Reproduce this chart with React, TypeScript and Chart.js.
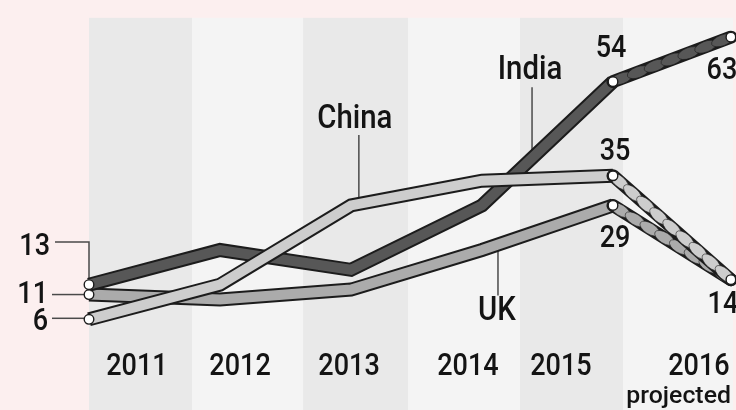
import React, { useEffect, useRef } from "react";
import { Chart, registerables } from "chart.js";

Chart.register(...registerables);

// ---- data ----
const years = ["2011", "2012", "2013", "2014", "2015", "2016"];
const yearX = [2011, 2012, 2013, 2014, 2015, 2015.9]; // 2016 is projected
const projectedFrom = 4; // index where projection starts
const india = [13, 20, 16, 29, 54, 63];
const china = [6, 13, 29, 34, 35, 14];
const uk = [11, 10, 12, 20, 29, 14];
const seriesNames = ["China", "India", "UK"];
const projectedLabel = "projected";

// ---- layout config ----
const PX_PER_YEAR = 131;
const X_ORIGIN_PX = 89;
const PX_PER_UNIT = 4.95;
const ZERO_PX = 349;
const W = 736;
const H = 410;
const X_MIN = 2011 - X_ORIGIN_PX / PX_PER_YEAR;
const X_MAX = X_MIN + W / PX_PER_YEAR;
const Y_MAX = ZERO_PX / PX_PER_UNIT;
const Y_MIN = Y_MAX - H / PX_PER_UNIT;

const bandEdges = [2011, 2011.786, 2012.634, 2013.435, 2014.29, 2015.076, 2015.916];
const bandTopValue = 66.9;
const yearLabelX = [2011.366, 2012.153, 2012.985, 2013.893, 2014.603, 2015.656];

const FONT = "Roboto, 'Liberation Sans', sans-serif";
const TEXT = "#141414";
const OUTLINE = "#1c1c1c";
const LEADER = "#4a4a4a";

const colors = ["#cdcdcd", "#575757", "#ababab"];

type ValLabel = { ds: number; idx: number; dx: number; dy: number; align: CanvasTextAlign; leader?: number[][] };
const valueLabels: ValLabel[] = [
  { ds: 1, idx: 0, dx: -39, dy: -29.6, align: "right", leader: [[-34, -42.6], [0, -42.6], [0, -6]] },
  { ds: 2, idx: 0, dx: -41, dy: 8.5, align: "right", leader: [[-37, 0], [-5, 0]] },
  { ds: 0, idx: 0, dx: -41, dy: 11, align: "right", leader: [[-37, -1], [-5, -1]] },
  { ds: 1, idx: 4, dx: -2, dy: -24.7, align: "center" },
  { ds: 1, idx: 5, dx: -9, dy: 42, align: "center" },
  { ds: 0, idx: 4, dx: 2, dy: -16, align: "center" },
  { ds: 2, idx: 4, dx: 2, dy: 41.5, align: "center" },
  { ds: 2, idx: 5, dx: -8, dy: 33, align: "center" },
];

// name labels: leader at data x, offsets relative to the line's pixel y at that x
const nameLabels = [
  { ds: 1, x: 2014.382, dx: -2, textDy: -79, leaderDy: -71 },
  { ds: 0, x: 2013.06, dx: -4, textDy: -76, leaderDy: -69 },
  { ds: 2, x: 2014.122, dx: -1, textDy: 75, leaderDy: 51 },
];

function drawText(ctx: CanvasRenderingContext2D, text: string, x: number, y: number, size: number, align: CanvasTextAlign, scaleX: number) {
  ctx.save();
  ctx.translate(x, y);
  ctx.scale(scaleX, 1);
  ctx.font = `500 ${size}px ${FONT}`;
  ctx.fillStyle = TEXT;
  ctx.textAlign = align;
  ctx.textBaseline = "alphabetic";
  ctx.fillText(text, 0, 0);
  ctx.restore();
}

function lineYAt(chart: any, dsIndex: number, xVal: number) {
  const pts = chart.getDatasetMeta(dsIndex).data;
  const xs = chart.scales.x;
  const px = xs.getPixelForValue(xVal);
  for (let i = 0; i < pts.length - 1; i++) {
    if (px >= pts[i].x && px <= pts[i + 1].x) {
      const t = (px - pts[i].x) / (pts[i + 1].x - pts[i].x);
      return { x: px, y: pts[i].y + t * (pts[i + 1].y - pts[i].y) };
    }
  }
  return { x: px, y: pts[0].y };
}

const decorPlugin = {
  id: "decor",
  beforeDraw(chart: any) {
    const ctx = chart.ctx as CanvasRenderingContext2D;
    const xs = chart.scales.x;
    const ys = chart.scales.y;
    ctx.save();
    ctx.fillStyle = "#fcefef";
    ctx.fillRect(0, 0, chart.width, chart.height);
    const top = ys.getPixelForValue(bandTopValue);
    for (let i = 0; i < bandEdges.length - 1; i++) {
      const x0 = xs.getPixelForValue(bandEdges[i]);
      const x1 = xs.getPixelForValue(bandEdges[i + 1]);
      ctx.fillStyle = i % 2 === 0 ? "#e9e9e9" : "#f4f4f4";
      ctx.fillRect(x0, top, x1 - x0, chart.height - top);
    }
    years.forEach((y, i) => {
      drawText(ctx, y, xs.getPixelForValue(yearLabelX[i]), 375, 32, "center", 0.845);
    });
    const lastX = xs.getPixelForValue(yearLabelX[years.length - 1]);
    drawText(ctx, projectedLabel, lastX + 32, 403, 23, "right", 1.08);
    ctx.restore();
  },
  beforeDatasetsDraw(chart: any) {
    const ctx = chart.ctx as CanvasRenderingContext2D;
    ctx.save();
    ctx.strokeStyle = LEADER;
    ctx.lineWidth = 1.5;
    valueLabels.forEach((l) => {
      const p = chart.getDatasetMeta(l.ds).data[l.idx];
      if (l.leader) {
        ctx.beginPath();
        l.leader.forEach((o, k) => {
          if (k === 0) ctx.moveTo(p.x + o[0], p.y + o[1]);
          else ctx.lineTo(p.x + o[0], p.y + o[1]);
        });
        ctx.stroke();
      }
    });
    nameLabels.forEach((n) => {
      const p = lineYAt(chart, n.ds, n.x);
      ctx.beginPath();
      ctx.moveTo(p.x, p.y + n.leaderDy);
      ctx.lineTo(p.x, p.y);
      ctx.stroke();
      drawText(ctx, seriesNames[n.ds], p.x + n.dx, p.y + n.textDy, 33, "center", 0.89);
    });
    ctx.restore();
  },
  beforeDatasetDraw(chart: any, args: any) {
    const ctx = chart.ctx as CanvasRenderingContext2D;
    const pts = args.meta.data;
    ctx.save();
    ctx.strokeStyle = OUTLINE;
    ctx.lineWidth = 14;
    ctx.lineJoin = "miter";
    ctx.lineCap = "butt";
    ctx.beginPath();
    for (let i = 0; i <= projectedFrom; i++) {
      if (i === 0) ctx.moveTo(pts[i].x, pts[i].y);
      else ctx.lineTo(pts[i].x, pts[i].y);
    }
    ctx.stroke();
    ctx.restore();
  },
  afterDatasetDraw(chart: any, args: any) {
    const ctx = chart.ctx as CanvasRenderingContext2D;
    const pts = args.meta.data;
    const color = colors[args.index];
    ctx.save();
    for (let s = projectedFrom; s < pts.length - 1; s++) {
      const a = pts[s], b = pts[s + 1];
      const dx = b.x - a.x, dy = b.y - a.y;
      const len = Math.hypot(dx, dy);
      const ang = Math.atan2(dy, dx);
      // outline of projected segment
      ctx.beginPath();
      ctx.moveTo(a.x, a.y);
      ctx.lineTo(b.x, b.y);
      ctx.lineWidth = 13;
      ctx.lineCap = "round";
      ctx.strokeStyle = OUTLINE;
      ctx.stroke();
      const n = Math.max(1, Math.round(len / 17));
      const step = len / n;
      for (let k = 0; k < n; k++) {
        const t = (k + 0.5) / n;
        ctx.beginPath();
        ctx.ellipse(a.x + dx * t, a.y + dy * t, step / 2 + 2.5, 5.4, ang, 0, Math.PI * 2);
        ctx.fillStyle = color;
        ctx.fill();
        ctx.lineWidth = 1;
        ctx.strokeStyle = "rgba(20,20,20,0.55)";
        ctx.stroke();
      }
    }
    [0, projectedFrom, pts.length - 1].forEach((i) => {
      ctx.beginPath();
      ctx.arc(pts[i].x, pts[i].y, 4.8, 0, Math.PI * 2);
      ctx.fillStyle = "#ffffff";
      ctx.fill();
      ctx.lineWidth = 1.4;
      ctx.strokeStyle = OUTLINE;
      ctx.stroke();
    });
    ctx.restore();
  },
  afterDatasetsDraw(chart: any) {
    const ctx = chart.ctx as CanvasRenderingContext2D;
    const data = [china, india, uk];
    valueLabels.forEach((l) => {
      const p = chart.getDatasetMeta(l.ds).data[l.idx];
      drawText(ctx, String(data[l.ds][l.idx]), p.x + l.dx, p.y + l.dy, 32, l.align, 0.845);
    });
  },
};

function makeDataset(label: string, values: number[], color: string) {
  return {
    label,
    data: values.map((v, i) => ({ x: yearX[i], y: v })),
    borderColor: color,
    borderWidth: 10,
    borderJoinStyle: "miter" as const,
    pointRadius: 0,
    tension: 0,
    segment: {
      borderColor: (c: any) => (c.p0DataIndex >= projectedFrom ? "rgba(0,0,0,0)" : undefined),
    },
  };
}

export default function App() {
  const ref = useRef<HTMLCanvasElement>(null);
  useEffect(() => {
    if (!ref.current) return;
    const chart = new Chart(ref.current, {
      type: "line",
      data: {
        datasets: [
          makeDataset("China", china, colors[0]),
          makeDataset("India", india, colors[1]),
          makeDataset("UK", uk, colors[2]),
        ],
      },
      options: {
        responsive: false,
        animation: false,
        devicePixelRatio: 1,
        layout: { padding: 0 },
        scales: {
          x: { type: "linear", min: X_MIN, max: X_MAX, display: false },
          y: { type: "linear", min: Y_MIN, max: Y_MAX, display: false },
        },
        plugins: { legend: { display: false }, tooltip: { enabled: false } },
        events: [],
      },
      plugins: [decorPlugin],
    });
    return () => chart.destroy();
  }, []);
  return (
    <div style={{ position: "fixed", left: 0, top: 0, width: W, height: H }}>
      <canvas ref={ref} width={W} height={H} style={{ width: W, height: H, display: "block" }} />
    </div>
  );
}
